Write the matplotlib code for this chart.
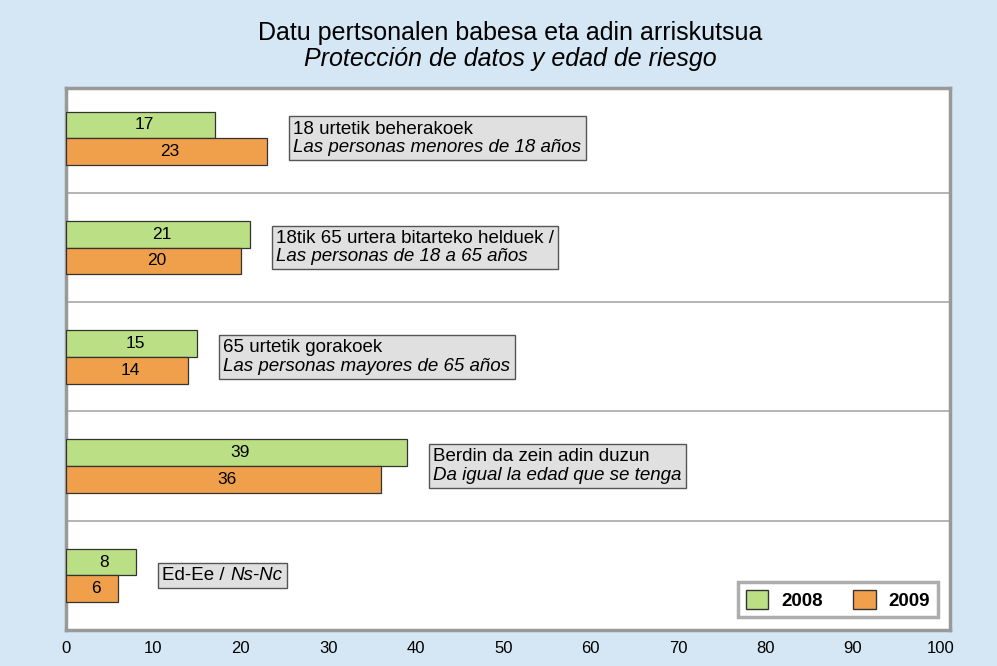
import matplotlib.pyplot as plt
import matplotlib.patches as mpatches
from matplotlib.offsetbox import TextArea, VPacker, HPacker, AnnotationBbox
import numpy as np

# ─── data ───
cat_eu = ["18 urtetik beherakoek", "18tik 65 urtera bitarteko helduek /",
          "65 urtetik gorakoek", "Berdin da zein adin duzun", "Ed-Ee /"]
cat_es = ["Las personas menores de 18 años", "Las personas de 18 a 65 años",
          "Las personas mayores de 65 años", "Da igual la edad que se tenga", "Ns-Nc"]
v2008 = [17, 21, 15, 39, 8]
v2009 = [23, 20, 14, 36, 6]
years = ["2008", "2009"]
xticks = [0, 10, 20, 30, 40, 50, 60, 70, 80, 90, 100]

BG = "#D5E7F4"
GREEN = "#BADF84"
ORANGE = "#F0A04B"

plt.rcParams['font.family'] = ['Liberation Sans', 'DejaVu Sans']

fig = plt.figure(figsize=(9.97, 6.66), dpi=100)
fig.patch.set_facecolor(BG)
ax = fig.add_axes([0.0662, 0.054, 0.8867, 0.8138])
ax.set_facecolor('white')

y = np.arange(len(v2008))
h = 0.245
ax.barh(y - h / 2, v2008, height=h, color=GREEN, edgecolor='#333333', linewidth=0.9, zorder=3)
ax.barh(y + h / 2, v2009, height=h, color=ORANGE, edgecolor='#333333', linewidth=0.9, zorder=3)

for i in range(len(y)):
    ax.text(v2008[i] / 2 + 0.4, y[i] - h / 2, str(v2008[i]), ha='center', va='center', fontsize=12.5, zorder=4)
    ax.text(v2009[i] / 2 + 0.4, y[i] + h / 2, str(v2009[i]), ha='center', va='center', fontsize=12.5, zorder=4)

# category boxes (basque upright, spanish italic)
fs = 13.5
for i in range(len(y)):
    xpos = max(v2008[i], v2009[i]) + 3
    eu = TextArea(cat_eu[i], textprops=dict(fontsize=fs))
    es = TextArea(cat_es[i], textprops=dict(fontsize=fs, style='italic'))
    if i == len(y) - 1:
        pack = HPacker(children=[eu, es], align='baseline', pad=0, sep=4)
    else:
        pack = VPacker(children=[eu, es], align='left', pad=0, sep=1)
    ab = AnnotationBbox(pack, (xpos, y[i]), box_alignment=(0, 0.5), frameon=True, pad=0.3,
                        bboxprops=dict(boxstyle='square,pad=0.3', facecolor='#E0E0E0',
                                       edgecolor='#555555', linewidth=1.0), zorder=4)
    ax.add_artist(ab)

# separators
for s in np.arange(0.5, len(y) - 0.5, 1):
    ax.axhline(s, color='#A8A8A8', linewidth=1.2, zorder=1)

ax.set_xlim(0, 101.1)
ax.set_ylim(len(y) - 0.5, -0.46)
ax.set_xticks(xticks)
ax.set_xticklabels([str(t) for t in xticks], fontsize=12)
ax.tick_params(axis='x', length=0, pad=8)
ax.set_yticks([])
for sp in ax.spines.values():
    sp.set_color('#999999')
    sp.set_linewidth(2.5)

handles = [mpatches.Patch(facecolor=GREEN, edgecolor='#333333', label=years[0]),
           mpatches.Patch(facecolor=ORANGE, edgecolor='#333333', label=years[1])]
leg = ax.legend(handles=handles, loc='lower right', ncol=2, fancybox=False,
                prop={'weight': 'bold', 'size': 13.5}, bbox_to_anchor=(0.986, 0.024),
                borderaxespad=0, handlelength=1.2, handleheight=1.2, columnspacing=1.6,
                handletextpad=0.7, borderpad=0.4)
leg.get_frame().set_edgecolor('#999999')
leg.get_frame().set_linewidth(2.5)

fig.text(0.512, 1 - 33 / 666, "Datu pertsonalen babesa eta adin arriskutsua", ha='center', va='center',
         fontsize=18)
fig.text(0.512, 1 - 59 / 666, "Protección de datos y edad de riesgo", ha='center', va='center', fontsize=18,
         style='italic')

plt.savefig('out.png', dpi=100, facecolor=BG)
